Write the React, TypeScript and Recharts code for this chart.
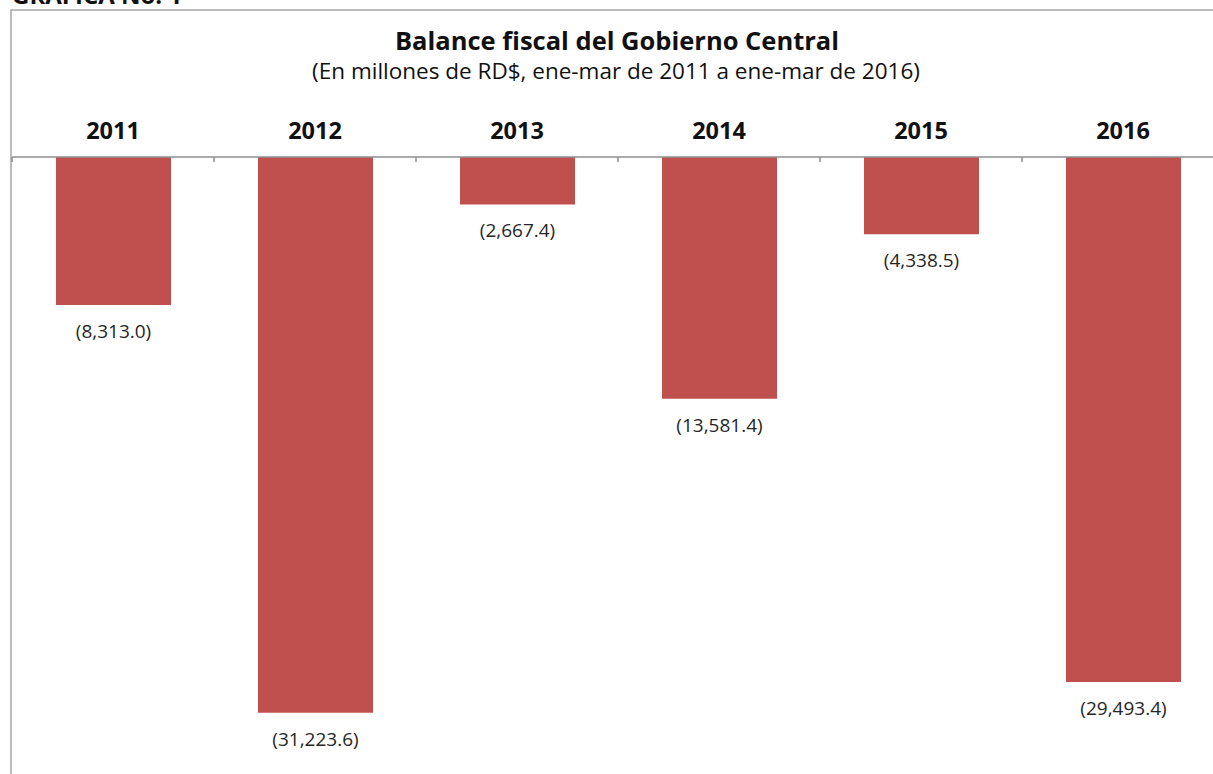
import { BarChart, Bar, XAxis, YAxis, LabelList } from "recharts";

// ene-mar de cada año, millones de RD$
const years = ["2011", "2012", "2013", "2014", "2015", "2016"];
const balance = [-8313.0, -31223.6, -2667.4, -13581.4, -4338.5, -29493.4];

const data = years.map((year, i) => ({ year, balance: balance[i] }));

const FONT = "'Open Sans', 'Noto Sans', sans-serif";
const AXIS_GRAY = "#8f8f8f";
const BAR_RED = "#c0504d";
const TICK_GAP = 18;

const fmt = (v: number) => {
  const s = Math.abs(v).toLocaleString("en-US", {
    minimumFractionDigits: 1,
    maximumFractionDigits: 1,
  });
  return v < 0 ? `(${s})` : s;
};

const YearTick = (props: any) => {
  const { x, y, payload } = props;
  const half = payload?.offset ?? 101;
  const axisY = y + TICK_GAP;
  return (
    <g>
      <text
        x={x}
        y={y}
        textAnchor="middle"
        fontFamily={FONT}
        fontWeight={700}
        fontSize={23.5}
        fill="#111"
      >
        {payload.value}
      </text>
      <line
        x1={x - half}
        x2={x - half}
        y1={axisY}
        y2={axisY + 5}
        stroke={AXIS_GRAY}
        strokeWidth={1.5}
      />
    </g>
  );
};

const ValueLabel = (props: any) => {
  const { x, y, width, height, value } = props;
  const end = Math.max(y, y + height);
  return (
    <text
      x={x + width / 2}
      y={end + 33}
      textAnchor="middle"
      fontFamily={FONT}
      fontSize={19}
      fill="#262626"
    >
      {fmt(value)}
    </text>
  );
};

export default function App() {
  return (
    <div
      style={{
        position: "fixed",
        left: 0,
        top: 0,
        width: 1213,
        height: 774,
        overflow: "hidden",
        background: "#fff",
      }}
    >
      <svg
        width={1213}
        height={774}
        style={{ position: "absolute", left: 0, top: 0 }}
      >
        <text
          x={12}
          y={4}
          fontFamily={FONT}
          fontWeight={700}
          fontSize={24}
          fill="#111"
        >
          GRÁFICA No. 1
        </text>
        <rect
          x={11}
          y={10}
          width={1260}
          height={820}
          fill="none"
          stroke="#a6a6a6"
          strokeWidth={1.5}
        />
        <text
          x={617}
          y={50}
          textAnchor="middle"
          fontFamily={FONT}
          fontWeight={700}
          fontSize={25.5}
          fill="#111"
        >
          Balance fiscal del Gobierno Central
        </text>
        <text
          x={616}
          y={79}
          textAnchor="middle"
          fontFamily={FONT}
          fontSize={22.5}
          fill="#111"
        >
          (En millones de RD$, ene-mar de 2011 a ene-mar de 2016)
        </text>
      </svg>
      <div style={{ position: "absolute", left: 0, top: 0 }}>
        <BarChart
          width={1240}
          height={800}
          data={data}
          margin={{ top: 127, right: 16, left: 12, bottom: 20 }}
        >
          <XAxis
            dataKey="year"
            orientation="top"
            height={30}
            axisLine={{ stroke: AXIS_GRAY, strokeWidth: 1.5 }}
            tickLine={false}
            tickSize={0}
            tickMargin={TICK_GAP}
            tick={<YearTick />}
            interval={0}
          />
          <YAxis hide domain={[-35000, 0]} />
          <Bar
            dataKey="balance"
            fill={BAR_RED}
            barSize={115}
            isAnimationActive={false}
          >
            <LabelList dataKey="balance" content={<ValueLabel />} />
          </Bar>
        </BarChart>
      </div>
    </div>
  );
}
